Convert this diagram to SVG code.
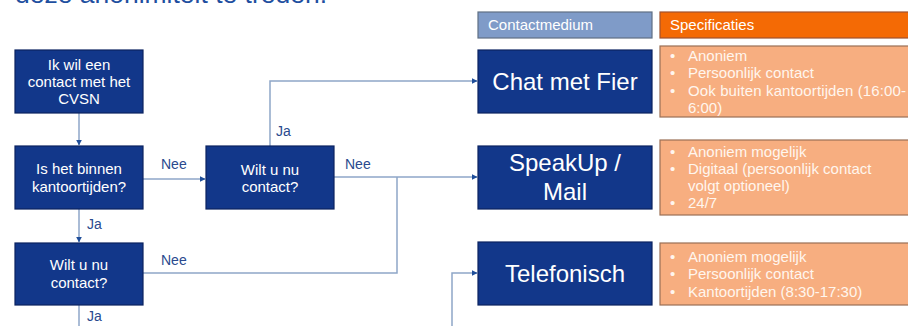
<svg xmlns="http://www.w3.org/2000/svg" width="908" height="326" viewBox="0 0 908 326">
<style>
text{font-family:"Liberation Sans",Arial,sans-serif}
.box{fill:#12378a;stroke:#0a2260;stroke-width:1.2}
.bt{fill:#ffffff;font-size:15px;text-anchor:middle}
.big{fill:#ffffff;font-size:24px;text-anchor:middle}
.spec{fill:#f7ae80;stroke:#9a6f55;stroke-width:1.2}
.st{fill:#fff6ee;font-size:15px}
.lbl{fill:#2a4a8e;font-size:14px}
.con{fill:none;stroke:#8ea6c8;stroke-width:1.5}
</style>
<defs>
<marker id="ah" viewBox="0 0 10 10" refX="9" refY="5" markerWidth="6" markerHeight="6" orient="auto" markerUnits="userSpaceOnUse">
<path d="M0,0 L10,5 L0,10 z" fill="#1f4e9a"/>
</marker>
</defs>
<rect width="908" height="326" fill="#ffffff"/>
<text x="15" y="3" style="fill:#1f4fa0;font-size:26px" textLength="312" lengthAdjust="spacingAndGlyphs">deze anonimiteit te treden.</text>

<g id="connectors">
<path class="con" d="M79,113 V145" marker-end="url(#ah)"/>
<path class="con" d="M79,209 V242" marker-end="url(#ah)"/>
<path class="con" d="M79,305 V326"/>
<path class="con" d="M143,179 H205" marker-end="url(#ah)"/>
<path class="con" d="M270,146 V81 H477" marker-end="url(#ah)"/>
<path class="con" d="M334,177 H477" marker-end="url(#ah)"/>
<path class="con" d="M143,273 H397 V177"/>
<path class="con" d="M452,326 V273 H477" marker-end="url(#ah)"/>
<text class="lbl" x="87" y="229">Ja</text>
<text class="lbl" x="87" y="321">Ja</text>
<text class="lbl" x="161" y="169">Nee</text>
<text class="lbl" x="276" y="136">Ja</text>
<text class="lbl" x="345" y="169">Nee</text>
<text class="lbl" x="161" y="265">Nee</text>
</g>

<g id="n-start">
<rect class="box" x="15" y="50" width="128" height="63"/>
<text class="bt" x="79" y="70">Ik wil een</text>
<text class="bt" x="79" y="87">contact met het</text>
<text class="bt" x="79" y="104">CVSN</text>
</g>
<g id="n-kantoortijden">
<rect class="box" x="15" y="146" width="128" height="63"/>
<text class="bt" x="79" y="174">Is het binnen</text>
<text class="bt" x="79" y="192">kantoortijden?</text>
</g>
<g id="n-wilt-binnen">
<rect class="box" x="15" y="243" width="128" height="62"/>
<text class="bt" x="79" y="270">Wilt u nu</text>
<text class="bt" x="79" y="288">contact?</text>
</g>
<g id="n-wilt-buiten">
<rect class="box" x="206" y="146" width="128" height="63"/>
<text class="bt" x="270" y="175">Wilt u nu</text>
<text class="bt" x="270" y="192">contact?</text>
</g>

<g id="h-contactmedium">
<rect x="478" y="12" width="174" height="26" fill="#7f9bc8" stroke="#5f6f84" stroke-width="1.2"/>
<text x="488" y="30" style="fill:#ffffff;font-size:15px">Contactmedium</text>
</g>
<g id="h-specificaties">
<rect x="660" y="12" width="260" height="26" fill="#f46a05" stroke="#a0522d" stroke-width="1.2"/>
<text x="670" y="30" style="fill:#ffffff;font-size:15px">Specificaties</text>
</g>

<g id="n-chat">
<rect class="box" x="478" y="50" width="174" height="63"/>
<text class="big" x="565" y="90">Chat met Fier</text>
</g>
<g id="s-chat">
<rect class="spec" x="660" y="46" width="260" height="71"/>
<text class="st" x="670" y="61">•</text><text class="st" x="688" y="61">Anoniem</text>
<text class="st" x="670" y="78">•</text><text class="st" x="688" y="78">Persoonlijk contact</text>
<text class="st" x="670" y="96">•</text><text class="st" x="688" y="96" textLength="218">Ook buiten  kantoortijden (16:00-</text>
<text class="st" x="688" y="113">6:00)</text>
</g>

<g id="n-speakup">
<rect class="box" x="478" y="146" width="174" height="63"/>
<text class="big" x="565" y="171">SpeakUp /</text>
<text class="big" x="565" y="200">Mail</text>
</g>
<g id="s-speakup">
<rect class="spec" x="660" y="140" width="260" height="75"/>
<text class="st" x="670" y="157">•</text><text class="st" x="688" y="157">Anoniem mogelijk</text>
<text class="st" x="670" y="174">•</text><text class="st" x="688" y="174">Digitaal (persoonlijk contact</text>
<text class="st" x="688" y="191">volgt optioneel)</text>
<text class="st" x="670" y="208">•</text><text class="st" x="688" y="208">24/7</text>
</g>

<g id="n-telefonisch">
<rect class="box" x="478" y="242" width="174" height="63"/>
<text class="big" x="565" y="282">Telefonisch</text>
</g>
<g id="s-telefonisch">
<rect class="spec" x="660" y="243" width="260" height="62"/>
<text class="st" x="670" y="262">•</text><text class="st" x="688" y="262">Anoniem mogelijk</text>
<text class="st" x="670" y="279">•</text><text class="st" x="688" y="279">Persoonlijk contact</text>
<text class="st" x="670" y="297">•</text><text class="st" x="688" y="297">Kantoortijden (8:30-17:30)</text>
</g>
</svg>
